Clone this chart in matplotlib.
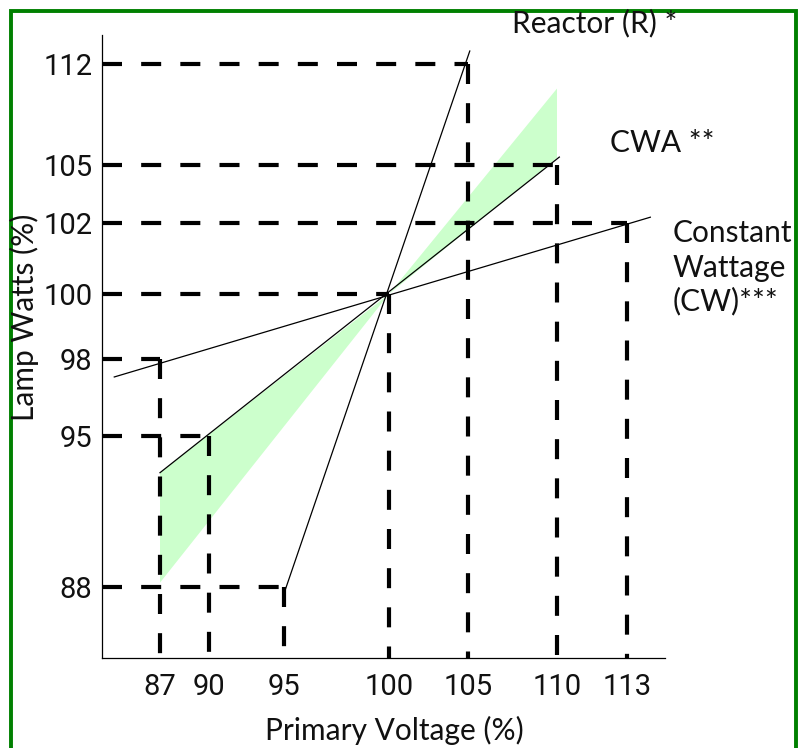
import numpy as np
import matplotlib.pyplot as plt
from matplotlib.patches import Rectangle

# Tick values (the reference axes are not linearly spaced)
x_ticks = [87, 90, 95, 100, 105, 110, 113]
y_ticks = [88, 95, 98, 100, 102, 105, 112]

# where each tick sits in the reference picture (px from left / px from bottom)
x_tick_pos = [160, 209, 284, 389, 468, 557, 627]
y_tick_pos = [748 - p for p in [587, 436, 359, 294, 223, 165, 64]]

# Regulation lines (voltage %, lamp watts %)
reactor_x = [95, 105.1]
reactor_y = [87.7, 112.9]
cwa_x = [87, 110.1]
cwa_y = [93.3, 105.55]
cw_x = [84.2, 114.0]
cw_y = [97.3, 102.3]

# CWA tolerance band
band_x = [87, 87, 100, 110, 110, 100]
band_y = [93.3, 88.2, 100, 110.3, 105.5, 100]

# Reference points for the dashed guides
guide_x = [105, 110, 113, 100, 87, 90, 95]
guide_y = [112, 105, 102, 100, 98, 95, 88]


def piecewise(vals, pos):
    vals = np.asarray(vals, float)
    pos = np.asarray(pos, float)

    def make(a, b):
        def f(v):
            v = np.asarray(v, float)
            out = np.interp(v, a, b)
            out = np.where(v < a[0], b[0] + (v - a[0]) * (b[1] - b[0]) / (a[1] - a[0]), out)
            out = np.where(v > a[-1], b[-1] + (v - a[-1]) * (b[-1] - b[-2]) / (a[-1] - a[-2]), out)
            return out
        return f

    return make(vals, pos), make(pos, vals)


fx, ix = piecewise(x_ticks, x_tick_pos)
fy, iy = piecewise(y_ticks, y_tick_pos)

W, H = 799, 748
fig = plt.figure(figsize=(W / 100, H / 100), dpi=100)
ax = fig.add_axes([102 / W, 1 - 658 / H, (665 - 102) / W, (658 - 35) / H])
ax.set_xscale('function', functions=(fx, ix))
ax.set_yscale('function', functions=(fy, iy))
x0, x1 = float(ix(102)), float(ix(665))
y0, y1 = float(iy(H - 658)), float(iy(H - 35))
ax.set_xlim(x0, x1)
ax.set_ylim(y0, y1)

ax.fill(band_x, band_y, color='#ccffcc', lw=0, zorder=1)

dash = dict(color='black', lw=3.0, dashes=(4.8, 4.6), solid_capstyle='butt',
            dash_capstyle='butt', zorder=2, clip_on=False)
for gx, gy in zip(guide_x, guide_y):
    ax.plot([x0, gx], [gy, gy], **dash)
    ax.plot([gx, gx], [gy, y0], **dash)

for lx, ly in [(reactor_x, reactor_y), (cwa_x, cwa_y), (cw_x, cw_y)]:
    ax.plot(lx, ly, color='black', lw=0.9, zorder=3, clip_on=False)

ax.set_xticks(x_ticks)
ax.set_xticklabels([str(v) for v in x_ticks])
ax.set_yticks(y_ticks)
ax.set_yticklabels([str(v) for v in y_ticks])
ax.minorticks_off()
ax.tick_params(length=0, labelsize=21)
ax.tick_params(axis='x', pad=11)
ax.tick_params(axis='y', pad=7)
for lab in ax.get_xticklabels() + ax.get_yticklabels():
    lab.set_family(['Roboto', 'DejaVu Sans'])
    lab.set_color('#111111')

for s in ['top', 'right']:
    ax.spines[s].set_visible(False)
for s in ['left', 'bottom']:
    ax.spines[s].set_linewidth(0.9)

lbl = dict(family=['Lato', 'DejaVu Sans'], fontsize=21.5, color='#111111')
fig.text(512 / W, 1 - 32 / H, 'Reactor (R) *', ha='left', va='baseline', **lbl)
fig.text(610 / W, 1 - 152 / H, 'CWA **', ha='left', va='baseline', **lbl)
fig.text(673 / W, 1 - 242 / H, 'Constant', ha='left', va='baseline', **lbl)
fig.text(673 / W, 1 - 277 / H, 'Wattage', ha='left', va='baseline', **lbl)
fig.text(673 / W, 1 - 310 / H, '(CW)***', ha='left', va='baseline', **lbl)
fig.text(394 / W, 1 - 740 / H, 'Primary Voltage (%)', ha='center', va='baseline', **lbl)
fig.text(34 / W, 1 - 317 / H, 'Lamp Watts (%)', ha='center', va='baseline',
         rotation=90, rotation_mode='anchor', **lbl)

# green frame
fig.patches.append(Rectangle((10.5 / W, -0.1), (795.5 - 10.5) / W, 1.1 - 10.5 / H,
                             transform=fig.transFigure, fill=False,
                             edgecolor='#008000', lw=2.8))

fig.savefig('out.png', dpi=100)
